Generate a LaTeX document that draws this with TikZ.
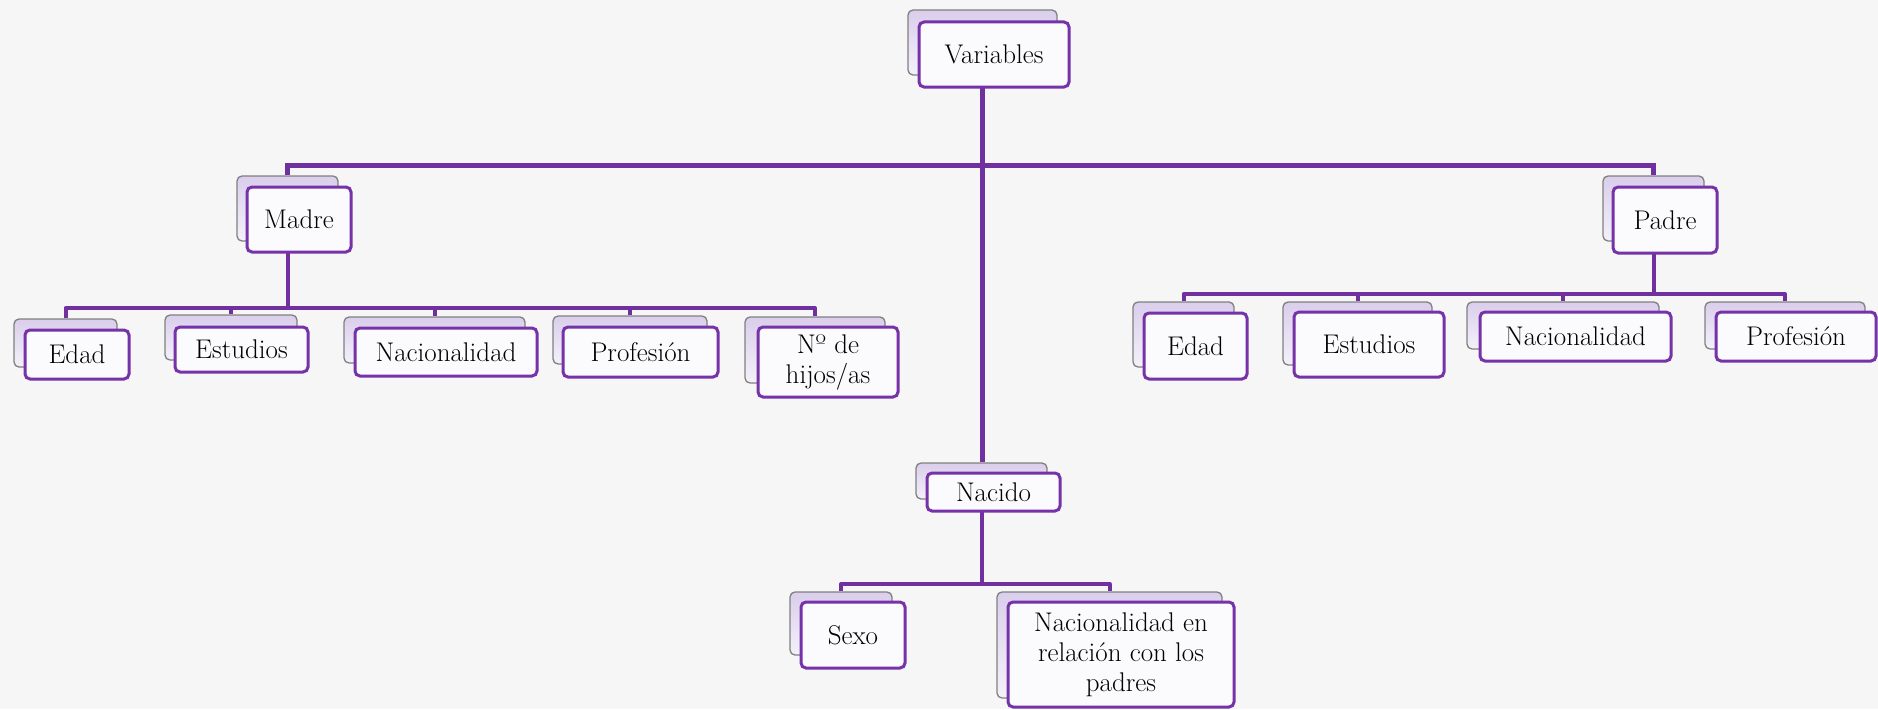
\documentclass[tikz,border=0pt]{standalone}
\usetikzlibrary{calc}
\pgfdeclarelayer{bg}
\pgfsetlayers{bg,main}
\definecolor{purp}{RGB}{118,50,168}
\definecolor{linep}{RGB}{112,48,160}
\definecolor{frontfill}{RGB}{251,250,253}
\definecolor{backtop}{RGB}{218,206,236}
\definecolor{backbot}{RGB}{244,241,249}
\definecolor{bgc}{RGB}{246,246,246}
\definecolor{backline}{RGB}{128,128,128}
\tikzset{
  front/.style={draw=purp, line width=3pt, rounded corners=5pt, fill=frontfill,
    inner sep=0pt, align=center, font=\fontsize{27}{30}\selectfont},
  back/.style={draw=backline, line width=1.3pt, rounded corners=5pt,
    top color=backtop, bottom color=backbot, inner sep=0pt},
  conn/.style={draw=linep, line width=5pt},
  subconn/.style={draw=linep, line width=4pt, line join=round},
}
\begin{document}
\begin{tikzpicture}[x=1pt,y=-1pt]
\begin{pgfonlayer}{bg}
\path[fill=bgc, use as bounding box] (0,0) rectangle (1878,709);
\end{pgfonlayer}
% Variables
\node[back, minimum width=149pt, minimum height=65pt] (varb) at (982.5,42.5) {};
\node[front, minimum width=150pt, minimum height=65pt] (var) at (994,54.5) {Variables};
% Madre
\node[back, minimum width=101pt, minimum height=65pt] (madreb) at (287.5,208.5) {};
\node[front, minimum width=104pt, minimum height=65pt] (madre) at (299,219.5) {Madre};
% Padre
\node[back, minimum width=101pt, minimum height=65pt] (padreb) at (1653.5,208.5) {};
\node[front, minimum width=104pt, minimum height=66pt] (padre) at (1665,220) {Padre};
% Madre children
\node[back, minimum width=103pt, minimum height=48pt] (m1b) at (65.5,343) {};
\node[front, minimum width=104pt, minimum height=49pt] (m1) at (77,354.5) {Edad};
\node[back, minimum width=132pt, minimum height=45pt] (m2b) at (231,337.5) {};
\node[front, minimum width=133pt, minimum height=45pt] (m2) at (241.5,349.5) {Estudios};
\node[back, minimum width=181pt, minimum height=46pt] (m3b) at (434.5,340) {};
\node[front, minimum width=182pt, minimum height=48pt] (m3) at (446,352) {Nacionalidad};
\node[back, minimum width=154pt, minimum height=48pt] (m4b) at (630,340) {};
\node[front, minimum width=155pt, minimum height=50pt] (m4) at (640.5,352) {Profesión};
\node[back, minimum width=140pt, minimum height=66pt] (m5b) at (815,350) {};
\node[front, minimum width=140pt, minimum height=70pt] (m5) at (828,362) {Nº de\\hijos/as};
% Padre children
\node[back, minimum width=101pt, minimum height=65pt] (p1b) at (1183.5,334.5) {};
\node[front, minimum width=103pt, minimum height=66pt] (p1) at (1195.5,346) {Edad};
\node[back, minimum width=149pt, minimum height=63pt] (p2b) at (1357.5,333.5) {};
\node[front, minimum width=150pt, minimum height=65pt] (p2) at (1369,344.5) {Estudios};
\node[back, minimum width=192pt, minimum height=47pt] (p3b) at (1563,325.5) {};
\node[front, minimum width=191pt, minimum height=49pt] (p3) at (1575.5,336.5) {Nacionalidad};
\node[back, minimum width=160pt, minimum height=47pt] (p4b) at (1785,325.5) {};
\node[front, minimum width=160pt, minimum height=49pt] (p4) at (1796,336.5) {Profesión};
% Nacido
\node[back, minimum width=131pt, minimum height=36pt] (nacb) at (981.5,481) {};
\node[front, minimum width=133pt, minimum height=38pt] (nac) at (993.5,492) {Nacido};
\node[back, minimum width=102pt, minimum height=63pt] (n1b) at (841,623.5) {};
\node[front, minimum width=104pt, minimum height=66pt] (n1) at (853,635) {Sexo};
\node[back, minimum width=225pt, minimum height=106pt] (n2b) at (1109.5,645) {};
\node[front, minimum width=226pt, minimum height=105pt] (n2) at (1121,654.5) {Nacionalidad en\\relación con los\\padres};
% connectors
\coordinate (topbar) at (0,165);
\coordinate (mbar) at (0,308);
\coordinate (pbar) at (0,294);
\coordinate (nbar) at (0,584);
\begin{pgfonlayer}{bg}
\draw[conn] (varb.south) -- (varb.south |- nacb.north);
\draw[conn] (madreb.north) -- (madreb.north |- topbar) -- (padreb.north |- topbar) -- (padreb.north);
\draw[subconn] (madreb.south) -- (madreb.south |- mbar);
\draw[subconn] (m1b.north) -- (m1b.north |- mbar) -- (m5b.north |- mbar) -- (m5b.north);
\foreach \c in {m2b,m3b,m4b} \draw[subconn] (\c.north |- mbar) -- (\c.north);
\draw[subconn] (padreb.south) -- (padreb.south |- pbar);
\draw[subconn] (p1b.north) -- (p1b.north |- pbar) -- (p4b.north |- pbar) -- (p4b.north);
\foreach \c in {p2b,p3b} \draw[subconn] (\c.north |- pbar) -- (\c.north);
\draw[subconn] (nacb.south) -- (nacb.south |- nbar);
\draw[subconn] (n1b.north) -- (n1b.north |- nbar) -- (n2b.north |- nbar) -- (n2b.north);
\end{pgfonlayer}
\end{tikzpicture}
\end{document}
